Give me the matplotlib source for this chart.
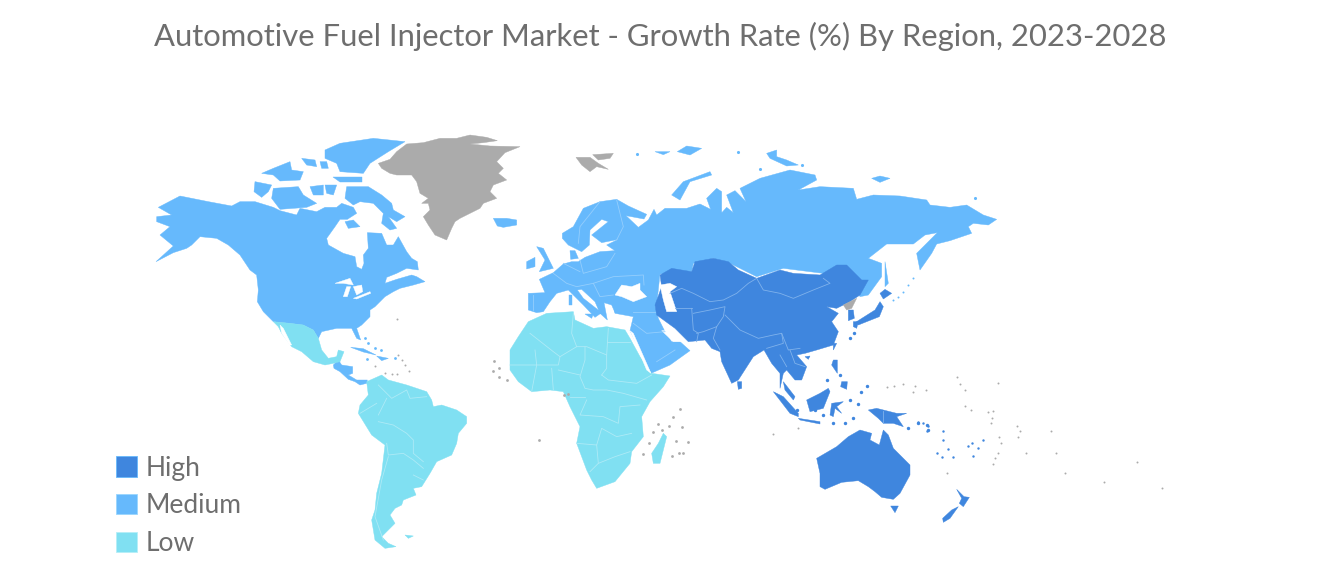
"""World map of fuel injector market growth, outlines traced by hand from crops."""

import matplotlib
matplotlib.use("Agg")
import matplotlib.pyplot as plt
from matplotlib.patches import Patch

TITLE = "Automotive Fuel Injector Market - Growth Rate (%) By Region, 2023-2028"
LEGEND_LABELS = ["High", "Medium", "Low"]

HIGH = "#3f86de"
MEDIUM = "#66b9fc"
LOW = "#80e0f2"
NO_DATA = "#ababab"
TEXT_GREY = "#6e6e6e"

# crop origins the outlines below were traced in (3x zoom)
NORTH_AM_CROP = (140, 120)
EURASIA_CROP = (500, 120)
ASIA_CROP = (620, 250)
SOUTH_AM_CROP = (260, 300)
AFRICA_CROP = (490, 300)
OCEANIA_CROP = (760, 360)

# Medium regions
CANADA_USA = [(55, 262), (120, 228), (205, 245), (275, 258), (300, 245), (345, 245), (400, 262), (420, 272),
              (470, 285), (480, 265), (530, 275), (555, 262), (590, 262), (605, 250), (640, 262), (650, 280),
              (622, 298), (600, 298), (585, 320), (560, 355), (565, 375), (610, 400), (645, 410), (650, 440),
              (665, 448), (672, 430), (670, 405), (685, 385), (682, 338), (725, 340), (740, 375), (760, 375),
              (775, 350), (800, 395), (815, 415), (832, 425), (835, 450), (800, 445), (770, 460), (740, 472),
              (735, 490), (770, 478), (815, 465), (830, 470), (855, 485), (820, 495), (780, 505), (760, 515),
              (735, 530), (705, 560), (690, 570), (690, 590), (665, 615), (650, 625), (662, 660), (650, 655),
              (635, 625), (590, 625), (545, 635), (535, 655), (520, 630), (490, 615), (450, 610), (400, 605),
              (370, 575), (352, 545), (355, 510), (350, 465), (330, 450), (300, 405), (265, 375), (230, 355),
              (180, 350), (155, 375), (140, 385), (100, 398), (48, 425), (100, 378), (60, 345), (90, 320),
              (50, 305), (50, 290), (95, 285)]
BAFFIN = [(620, 200), (685, 200), (725, 225), (755, 250), (760, 270), (795, 290), (770, 305), (745, 290),
          (770, 325), (750, 330), (725, 310), (730, 280), (700, 250), (660, 245), (640, 255), (615, 235)]
SOUTHAMPTON = [(615, 305), (640, 300), (660, 320), (625, 325)]
ELLESMERE = [(555, 90), (600, 70), (700, 55), (795, 65), (745, 95), (690, 130), (670, 160), (600, 155),
             (590, 130), (555, 115)]
DEVON = [(580, 170), (665, 170), (665, 185), (600, 185)]
BANKS = [(345, 185), (395, 195), (385, 215), (365, 232), (342, 215)]
VICTORIA = [(400, 205), (475, 200), (490, 225), (530, 250), (500, 262), (420, 268), (395, 235)]
MELVILLE = [(365, 160), (400, 145), (450, 125), (455, 150), (490, 155), (480, 180), (420, 183), (400, 165)]
BATHURST = [(485, 115), (525, 120), (530, 140), (500, 135)]
CORNWALLIS = [(540, 125), (560, 125), (565, 145), (545, 145)]
SOMERSET = [(510, 200), (550, 195), (550, 225), (520, 225)]
BOOTHIA = [(555, 195), (590, 195), (580, 225), (560, 220)]
ICELAND = [(1060, 295), (1100, 295), (1130, 300), (1130, 315), (1090, 322), (1072, 318)]
EURASIA = [(85, 520), (135, 518), (118, 478), (160, 458), (190, 432), (215, 425), (235, 425), (255, 412),
           (300, 395), (345, 392), (320, 375), (355, 358), (305, 368), (275, 345), (325, 305), (305, 298),
           (270, 330), (268, 375), (245, 395), (225, 385), (205, 375), (187, 355), (187, 340), (220, 320),
           (250, 265), (300, 245), (350, 238), (385, 258), (440, 283), (432, 297), (378, 287), (415, 322),
           (445, 300), (462, 268), (470, 285), (495, 265), (560, 265), (600, 252), (632, 268), (620, 235),
           (650, 205), (665, 215), (665, 290), (650, 295), (680, 262), (700, 278), (680, 225), (705, 212),
           (738, 245), (720, 205), (780, 175), (870, 150), (945, 165), (950, 180), (895, 210), (960, 200),
           (1060, 205), (1070, 238), (1120, 225), (1200, 228), (1280, 240), (1290, 255), (1350, 262),
           (1400, 255), (1450, 285), (1490, 298), (1465, 315), (1420, 310), (1405, 320), (1415, 340),
           (1350, 362), (1310, 372), (1295, 400), (1260, 450), (1250, 400), (1312, 338), (1275, 345),
           (1240, 372), (1160, 372), (1105, 415), (1145, 430), (1145, 470), (1105, 525), (1080, 530),
           (1060, 480), (1035, 435), (985, 462), (850, 445), (770, 470), (690, 430), (640, 415), (580, 430),
           (575, 455), (480, 462), (470, 555), (400, 578), (345, 578), (335, 555), (312, 548), (322, 600),
           (300, 580), (285, 545), (245, 508), (232, 510), (250, 535), (305, 578), (285, 592), (250, 555),
           (225, 530), (205, 510), (170, 520), (150, 545), (130, 575), (110, 578), (85, 570)]
MIDDLE_EAST = [(340, 545), (365, 530), (440, 535), (465, 555), (475, 595), (495, 635), (515, 665), (540, 665),
               (570, 692), (510, 735), (453, 760), (390, 632), (400, 590), (345, 580)]
BRITAIN = [(110, 380), (130, 385), (160, 445), (118, 455), (135, 420)]
IRELAND = [(80, 425), (105, 412), (105, 440), (80, 447)]
SICILY = [(255, 582), (280, 582), (275, 595)]
SARDINIA = [(208, 525), (216, 525), (216, 555), (208, 555)]
DENMARK = [(210, 392), (225, 392), (235, 415), (212, 418)]
NOVAYA_ZEMLYA = [(515, 225), (550, 185), (630, 155), (635, 165), (570, 185), (540, 240)]
SEVERNAYA = [(800, 100), (830, 90), (830, 110), (860, 120), (895, 135), (860, 138), (810, 115)]
NEW_SIBERIAN = [(1115, 175), (1140, 168), (1170, 175), (1140, 187)]
SAKHALIN = [(1155, 425), (1165, 490), (1155, 500)]
FRANZ_JOSEF_WEST = [(465, 95), (510, 95), (490, 104)]
FRANZ_JOSEF_EAST = [(532, 95), (560, 78), (605, 85), (570, 105)]
CENTRAL_AM = [(220, 195), (235, 180), (245, 195), (278, 200), (278, 220), (265, 225), (290, 240), (322, 240),
              (320, 250), (300, 255), (285, 245), (265, 238), (240, 215), (222, 205)]
CUBA = [(272, 142), (310, 146), (348, 165), (310, 156)]
HISPANIOLA = [(350, 168), (385, 175), (365, 182)]

# High regions
CENTRAL_EAST_ASIA = [(120, 75), (155, 55), (215, 65), (225, 35), (280, 25), (325, 35), (355, 60), (410, 85),
                     (480, 60), (520, 70), (600, 75), (650, 45), (680, 45), (725, 90), (745, 90), (720, 135),
                     (690, 155), (650, 175), (620, 170), (655, 190), (635, 215), (655, 245), (640, 285),
                     (590, 300), (555, 310), (530, 315), (560, 350), (545, 390), (525, 390), (500, 360),
                     (490, 370), (480, 415), (480, 370), (455, 340), (432, 300), (400, 320), (355, 390),
                     (335, 400), (305, 335), (300, 305), (275, 295), (255, 270), (205, 275), (165, 235),
                     (110, 195), (105, 165), (125, 110)]
SOUTH_KOREA = [(685, 180), (700, 180), (703, 205), (685, 212)]
HONSHU = [(780, 155), (790, 170), (778, 200), (740, 215), (715, 225), (705, 218), (765, 180)]
HOKKAIDO = [(780, 130), (795, 118), (815, 130), (790, 147)]
KYUSHU = [(700, 215), (715, 215), (710, 235), (700, 230)]
TAIWAN = [(640, 280), (650, 280), (640, 300)]
HAINAN = [(555, 320), (570, 318), (565, 328)]
SRI_LANKA = [(352, 395), (365, 395), (365, 415), (355, 418)]
LUZON = [(640, 330), (652, 330), (652, 370), (635, 345)]
MINDANAO = [(665, 395), (682, 395), (680, 418), (662, 410)]
BORNEO = [(560, 450), (600, 430), (625, 415), (630, 425), (610, 475), (570, 485)]
SUMATRA = [(460, 425), (490, 440), (535, 490), (535, 500), (510, 490)]
MALAYA = [(490, 395), (525, 440), (520, 450), (495, 420)]
JAVA = [(535, 505), (600, 515), (600, 522), (540, 510)]
SULAWESI = [(635, 460), (670, 455), (650, 470), (665, 490), (645, 475), (640, 500), (630, 495)]
NEW_GUINEA = [(745, 480), (770, 475), (830, 490), (860, 490), (830, 500), (850, 530), (820, 520), (790, 520),
              (775, 505)]
AUSTRALIA = [(170, 295), (230, 260), (265, 230), (300, 210), (335, 220), (330, 240), (358, 255), (370, 210),
             (385, 225), (400, 265), (450, 315), (450, 345), (420, 400), (400, 418), (365, 412), (345, 395),
             (325, 380), (295, 362), (245, 367), (195, 388), (180, 380), (180, 340)]
TASMANIA = [(392, 438), (415, 438), (405, 458)]
NZ_NORTH = [(590, 388), (612, 410), (628, 412), (610, 440), (598, 430), (605, 415)]
NZ_SOUTH = [(595, 440), (570, 475), (550, 487), (548, 475), (575, 450)]

# Low regions
MEXICO = [(400, 605), (450, 610), (490, 615), (520, 630), (535, 655), (545, 690), (565, 715), (590, 710),
          (595, 690), (612, 695), (600, 725), (580, 730), (555, 735), (520, 725), (485, 695), (455, 680),
          (425, 640), (415, 620)]
GULF_OF_CALIFORNIA = [(420, 615), (430, 625), (455, 675), (448, 675), (425, 640)]
SOUTH_AMERICA = [(320, 245), (365, 225), (385, 240), (440, 255), (500, 275), (515, 300), (520, 320), (545, 315),
                 (590, 330), (620, 350), (620, 370), (595, 400), (590, 430), (575, 465), (530, 485), (510, 520),
                 (485, 560), (460, 565), (468, 585), (430, 600), (425, 615), (405, 625), (390, 645), (405, 670),
                 (380, 695), (365, 710), (385, 730), (408, 740), (375, 745), (345, 720), (335, 660), (345, 630),
                 (350, 580), (365, 520), (375, 435), (335, 405), (295, 340), (300, 315), (325, 285)]
FALKLANDS = [(435, 705), (460, 708), (445, 715)]
AFRICA = [(115, 65), (170, 40), (250, 35), (255, 60), (310, 85), (350, 80), (405, 90), (420, 115), (450, 170),
          (485, 220), (540, 228), (520, 260), (480, 305), (455, 350), (460, 410), (425, 455), (420, 490),
          (375, 545), (320, 565), (305, 540), (290, 510), (260, 430), (270, 380), (240, 320), (220, 275),
          (180, 270), (125, 275), (85, 245), (60, 210), (60, 150), (85, 110)]
MADAGASCAR = [(520, 400), (530, 410), (510, 490), (490, 490), (485, 460), (505, 430)]

# No data regions
GREENLAND = [(715, 130), (750, 118), (770, 95), (800, 72), (850, 68), (900, 55), (950, 55), (990, 45), (1040, 52),
             (1072, 62), (1030, 68), (990, 72), (1050, 78), (1140, 80), (1095, 98), (1070, 125), (1090, 145),
             (1075, 160), (1100, 180), (1060, 195), (1050, 215), (1070, 235), (1030, 250), (1020, 265), (960, 295),
             (945, 305), (935, 325), (920, 360), (885, 345), (865, 315), (850, 290), (870, 270), (865, 250),
             (845, 250), (865, 235), (840, 220), (830, 185), (815, 165), (770, 165), (750, 160), (725, 145)]
SVALBARD = [(228, 112), (270, 112), (295, 130), (325, 148), (290, 140), (270, 155), (245, 135)]
NORDAUSTLANDET = [(278, 104), (340, 100), (330, 115), (295, 120)]
NORTH_KOREA = [(670, 165), (710, 145), (695, 175), (680, 180)]

# Water cut out of the land
CASPIAN = [(480, 495), (510, 490), (530, 500), (510, 515), (530, 575), (500, 575), (490, 540)]
BLACK_SEA = [(345, 525), (365, 495), (395, 500), (420, 490), (420, 510), (440, 530), (400, 545), (365, 530)]
SUPERIOR = [(585, 490), (630, 475), (640, 495), (610, 490)]
MICHIGAN = [(610, 530), (620, 500), (632, 500), (622, 530)]
HURON = [(640, 500), (665, 495), (668, 515), (650, 525)]
ERIE = [(640, 535), (690, 515), (692, 520), (650, 537)]
PERSIAN_GULF = [(485, 632), (500, 632), (545, 665), (520, 665)]
RED_SEA = [(390, 632), (400, 640), (453, 760), (440, 750)]

# Border lines per region
AFRICA_BORDERS = [
    [(120, 100), (190, 155), (210, 170), (260, 140), (290, 140), (350, 165), (350, 205), (335, 225)],
    [(250, 40), (245, 100), (260, 140)],
    [(355, 85), (350, 165)],
    [(350, 125), (420, 125)],
    [(135, 150), (140, 195), (60, 195)],
    [(210, 170), (205, 195), (140, 195)],
    [(335, 225), (355, 240), (440, 250), (485, 225)],
    [(285, 140), (285, 180), (270, 230), (285, 265), (310, 270), (350, 270), (400, 280), (470, 300)],
    [(205, 210), (270, 225)],
    [(240, 290), (285, 290)],
    [(290, 300), (270, 345), (340, 350), (385, 370), (390, 320), (450, 315)],
    [(260, 430), (320, 435), (335, 385), (380, 410), (425, 400)],
    [(320, 435), (325, 490), (300, 515)],
    [(325, 490), (375, 470), (420, 455)],
    [(140, 195), (125, 275)],
    [(185, 205), (190, 270)],
]
SOUTH_AM_BORDERS = [
    [(355, 255), (370, 270), (395, 295), (440, 270), (450, 295), (500, 290)],
    [(300, 340), (350, 310)],
    [(355, 345), (380, 295)],
    [(355, 365), (400, 375), (440, 400), (460, 420), (460, 460), (490, 485)],
    [(380, 430), (385, 465), (430, 460), (460, 480), (490, 505)],
    [(385, 470), (365, 540), (345, 650), (370, 720)],
    [(460, 525), (490, 540)],
]
EURASIA_BORDERS = [
    [(160, 460), (200, 490), (230, 500), (280, 490), (340, 470), (430, 465), (432, 495)],
    [(240, 420), (250, 460), (320, 440), (345, 400)],
    [(190, 430), (240, 455)],
    [(280, 490), (300, 530), (340, 525)],
    [(350, 240), (370, 320), (350, 360)],
    [(300, 245), (240, 320), (235, 370)],
    [(400, 575), (465, 575)],
    [(400, 610), (440, 640), (495, 635)],
    [(100, 525), (100, 570)],
    [(470, 725), (525, 690)],
]
ASIA_BORDERS = [
    [(150, 130), (185, 115), (220, 130), (270, 155), (310, 150), (350, 130), (385, 100), (410, 85)],
    [(410, 85), (430, 120), (480, 130), (520, 145), (580, 120), (630, 100), (610, 85)],
    [(215, 175), (220, 240), (235, 250), (230, 275)],
    [(220, 190), (270, 180), (315, 170), (310, 200), (290, 230), (250, 245), (230, 250)],
    [(165, 175), (215, 175)],
    [(315, 195), (360, 240), (415, 265), (460, 255), (485, 250), (490, 280), (440, 295)],
    [(290, 230), (280, 265), (300, 300)],
    [(485, 250), (505, 300), (540, 295)],
    [(480, 315), (500, 350)],
    [(510, 300), (525, 340), (555, 350)],
]
NEW_GUINEA_BORDER = [(788, 482), (788, 520)]

# Tiny islands, too small for an outline
MEDIUM_DOTS = [(410, 103), (715, 95), (780, 148), (905, 136), (1425, 235)]
KURIL_DOTS = [(1180, 540), (1195, 530), (1210, 515), (1225, 495), (1240, 475)]
CARIBBEAN_DOTS = [(315, 115), (325, 130), (345, 145), (362, 150), (320, 178), (405, 175)]
HIGH_DOTS = [(702, 250), (690, 265), (740, 408), (722, 425), (690, 450), (715, 462), (700, 505), (620, 390),
             (660, 375), (530, 480), (585, 480), (610, 495), (640, 520), (675, 520), (895, 518), (920, 525),
             (865, 535), (925, 540)]
HIGH_DOTS_PACIFIC = [(475, 185), (490, 188), (505, 198), (500, 212), (548, 212), (550, 240), (565, 268),
                     (530, 280), (545, 290), (580, 292), (625, 258), (635, 250), (668, 240), (655, 265),
                     (640, 288)]
GREY_DOTS = [(12, 183), (27, 205), (8, 213), (28, 230), (52, 240), (147, 421), (235, 282), (222, 285),
             (488, 395), (515, 390), (460, 463), (570, 328), (550, 352), (537, 378), (505, 372), (575, 382),
             (477, 430), (558, 424), (595, 426), (568, 460), (547, 468), (580, 458)]
GREY_DOTS_PACIFIC = [(38, 222), (114, 205), (380, 82), (402, 78), (430, 72), (465, 78), (458, 95), (498, 90),
                     (590, 52), (600, 72), (615, 90), (714, 68), (615, 138), (632, 150), (685, 155), (700, 152),
                     (695, 175), (692, 190), (770, 198), (780, 212), (775, 230), (873, 212), (718, 232),
                     (722, 248), (715, 280), (705, 295), (700, 312), (797, 278), (888, 278), (915, 340),
                     (1033, 366), (1132, 307), (1205, 383), (562, 338)]
GREY_DOTS_CARIBBEAN = [(412, 58), (415, 165), (425, 180), (435, 195), (345, 198), (375, 218), (395, 222),
                       (410, 222), (448, 212)]


def to_px(crop, points):
    """Crop coordinates (3x zoom) back to figure pixels."""
    return [crop[0] + x / 3 for x, _ in points], [crop[1] + y / 3 for _, y in points]


def fill_regions(ax, crop, regions, color):
    for region in regions:
        xs, ys = to_px(crop, region)
        ax.fill(xs, ys, color=color, lw=0.3)


def draw_borders(ax, crop, borders, color):
    for border in borders:
        xs, ys = to_px(crop, border)
        ax.plot(xs, ys, color=color, lw=0.6, solid_joinstyle="round")


def draw_dots(ax, crop, dots, color, size):
    xs, ys = to_px(crop, dots)
    ax.scatter(xs, ys, s=size, color=color, linewidths=0)


def main():
    plt.rcParams["font.family"] = ["Lato", "DejaVu Sans"]

    fig = plt.figure(figsize=(13.2, 5.87), dpi=100)
    ax = fig.add_axes([0, 0, 1, 1])
    ax.set_xlim(0, 1320)
    ax.set_ylim(587, 0)
    ax.axis("off")

    fill_regions(ax, NORTH_AM_CROP, [CANADA_USA, BAFFIN, SOUTHAMPTON, ELLESMERE, DEVON, BANKS, VICTORIA, MELVILLE,
                                     BATHURST, CORNWALLIS, SOMERSET, BOOTHIA, ICELAND], MEDIUM)
    fill_regions(ax, EURASIA_CROP, [EURASIA, MIDDLE_EAST, BRITAIN, IRELAND, SICILY, SARDINIA, DENMARK,
                                    NOVAYA_ZEMLYA, SEVERNAYA, NEW_SIBERIAN, SAKHALIN,
                                    FRANZ_JOSEF_WEST, FRANZ_JOSEF_EAST], MEDIUM)
    fill_regions(ax, SOUTH_AM_CROP, [CENTRAL_AM, CUBA, HISPANIOLA], MEDIUM)
    fill_regions(ax, ASIA_CROP, [CENTRAL_EAST_ASIA, SOUTH_KOREA, HONSHU, HOKKAIDO, KYUSHU, TAIWAN, HAINAN, SRI_LANKA,
                                 LUZON, MINDANAO, BORNEO, SUMATRA, MALAYA, JAVA, SULAWESI, NEW_GUINEA], HIGH)
    fill_regions(ax, OCEANIA_CROP, [AUSTRALIA, TASMANIA, NZ_NORTH, NZ_SOUTH], HIGH)
    fill_regions(ax, NORTH_AM_CROP, [MEXICO], LOW)
    fill_regions(ax, SOUTH_AM_CROP, [SOUTH_AMERICA, FALKLANDS], LOW)
    fill_regions(ax, AFRICA_CROP, [AFRICA, MADAGASCAR], LOW)
    fill_regions(ax, NORTH_AM_CROP, [GREENLAND], NO_DATA)
    fill_regions(ax, EURASIA_CROP, [SVALBARD, NORDAUSTLANDET], NO_DATA)
    fill_regions(ax, ASIA_CROP, [NORTH_KOREA], NO_DATA)

    # water goes on top of the land
    fill_regions(ax, EURASIA_CROP, [CASPIAN, BLACK_SEA, PERSIAN_GULF, RED_SEA], "white")
    fill_regions(ax, NORTH_AM_CROP, [SUPERIOR, MICHIGAN, HURON, ERIE, GULF_OF_CALIFORNIA], "white")

    draw_borders(ax, AFRICA_CROP, AFRICA_BORDERS, "#aeeaf6")
    draw_borders(ax, SOUTH_AM_CROP, SOUTH_AM_BORDERS, "#aeeaf6")
    draw_borders(ax, EURASIA_CROP, EURASIA_BORDERS, "#94cefc")
    draw_borders(ax, ASIA_CROP, ASIA_BORDERS, "#7fb2ec")
    draw_borders(ax, ASIA_CROP, [NEW_GUINEA_BORDER], "#7fb2ec")

    draw_dots(ax, EURASIA_CROP, MEDIUM_DOTS, MEDIUM, 5)
    draw_dots(ax, EURASIA_CROP, KURIL_DOTS, MEDIUM, 2)
    draw_dots(ax, SOUTH_AM_CROP, CARIBBEAN_DOTS, MEDIUM, 4)
    draw_dots(ax, ASIA_CROP, HIGH_DOTS, HIGH, 6)
    draw_dots(ax, OCEANIA_CROP, HIGH_DOTS_PACIFIC, HIGH, 3)
    draw_dots(ax, AFRICA_CROP, GREY_DOTS, NO_DATA, 4)
    draw_dots(ax, OCEANIA_CROP, GREY_DOTS_PACIFIC, NO_DATA, 2)
    draw_dots(ax, SOUTH_AM_CROP, GREY_DOTS_CARIBBEAN, NO_DATA, 2)

    ax.text(660, 36, TITLE, ha="center", va="center", fontsize=22.3, color=TEXT_GREY)

    handles = [Patch(facecolor=c, edgecolor=e, lw=0.6)
               for c, e in zip([HIGH, MEDIUM, LOW], ["#66b9fc", "#9ad6fd", "#b5eef7"])]
    ax.legend(handles, LEGEND_LABELS, loc="lower left", bbox_to_anchor=(116 / 1320, 1 - 556 / 587),
              frameon=False, fontsize=19, labelcolor=TEXT_GREY, handlelength=0.8, handleheight=0.8,
              handletextpad=0.33, labelspacing=0.48, borderpad=0, borderaxespad=0)

    fig.savefig("out.png", dpi=100)


if __name__ == "__main__":
    main()
